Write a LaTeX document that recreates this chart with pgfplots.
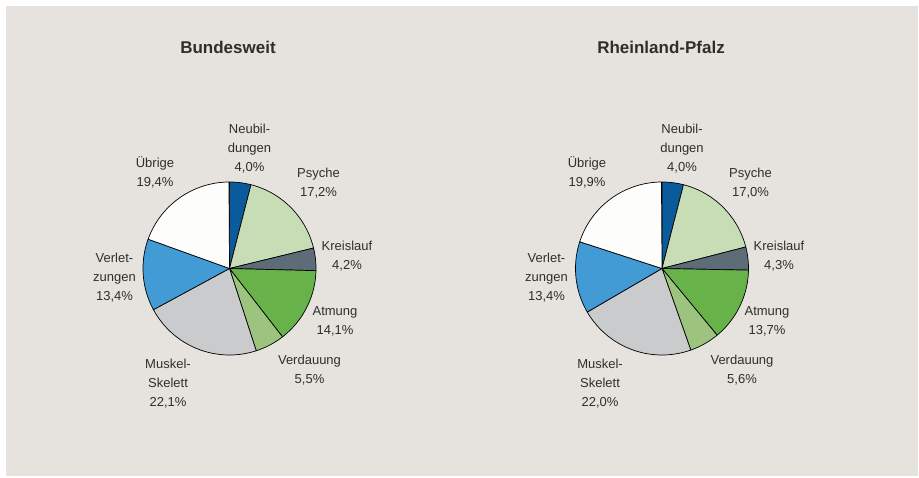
\documentclass[border=0pt]{standalone}
\usepackage{pgfplots}
\pgfplotsset{compat=1.18}
\usepgfplotslibrary{polar}
\usepackage{pgfplotstable}
\usepackage{fontspec}
\setmainfont{Liberation Sans}

\definecolor{bgc}{HTML}{E6E3DF}
\definecolor{txt}{HTML}{2E2E2E}
\definecolor{slice0}{HTML}{0B5A9C}
\definecolor{slice1}{HTML}{C6DDB6}
\definecolor{slice2}{HTML}{5E6C78}
\definecolor{slice3}{HTML}{68B24A}
\definecolor{slice4}{HTML}{9CC47E}
\definecolor{slice5}{HTML}{C9CBCD}
\definecolor{slice6}{HTML}{429BD4}
\definecolor{slice7}{HTML}{FDFDFC}

% shares in percent: Neubildungen, Psyche, Kreislauf, Atmung, Verdauung, Muskel-Skelett, Verletzungen, Uebrige
\pgfplotstableread{
pct
4.0
17.2
4.2
14.1
5.5
22.1
13.4
19.4
}\bund
\pgfplotstableread{
pct
4.0
17.0
4.3
13.7
5.6
22.0
13.4
19.9
}\rlp

\newcommand\pieslices[1]{%
  \pgfmathsetmacro\startang{90}%
  \pgfplotsforeachungrouped \i in {0,...,7}{%
    \pgfplotstablegetelem{\i}{pct}\of#1%
    \pgfmathsetmacro\endang{\startang-3.6*\pgfplotsretval}%
    \edef\doslice{\noexpand\addplot[fill=slice\i, draw=black, line width=0.7pt, line join=round, domain=\endang:\startang, samples=80] {1} -- (axis cs:0,0) -- cycle;}%
    \doslice
    \let\startang\endang
  }%
}

\newcommand\lbl[3]{\node[font=\fontsize{13}{19}\selectfont, text=txt, align=center, inner sep=0pt] at (#1pt,#2pt) {#3};}

\begin{document}
\begin{tikzpicture}
\path[use as bounding box, fill=white] (0pt,0pt) rectangle (919pt,477pt);
\fill[bgc] (6pt,1pt) rectangle (918pt,471pt);

\begin{polaraxis}[at={(229.5pt,208.5pt)}, anchor=origin, hide axis, scale only axis,
  width=173pt, height=173pt, xmin=0, xmax=360, ymin=0, ymax=1, clip=false]
\pieslices{\bund}
\end{polaraxis}

\begin{polaraxis}[at={(662pt,208.5pt)}, anchor=origin, hide axis, scale only axis,
  width=173pt, height=173pt, xmin=0, xmax=360, ymin=0, ymax=1, clip=false]
\pieslices{\rlp}
\end{polaraxis}

\node[font=\bfseries\fontsize{17}{20}\selectfont, text=txt] at (228pt,430pt) {Bundesweit};
\node[font=\bfseries\fontsize{17}{20}\selectfont, text=txt] at (661pt,430pt) {Rheinland-Pfalz};

\lbl{249.5}{328}{Neubil-\\dungen\\4,0\%}
\lbl{318.5}{294}{Psyche\\17,2\%}
\lbl{347}{220.5}{Kreislauf\\4,2\%}
\lbl{335}{155.5}{Atmung\\14,1\%}
\lbl{309.5}{106.5}{Verdauung\\5,5\%}
\lbl{168}{93}{Muskel-\\Skelett\\22,1\%}
\lbl{114.5}{199}{Verlet-\\zungen\\13,4\%}
\lbl{155}{304.5}{Übrige\\19,4\%}

\lbl{682}{328}{Neubil-\\dungen\\4,0\%}
\lbl{750.5}{294}{Psyche\\17,0\%}
\lbl{779}{220.5}{Kreislauf\\4,3\%}
\lbl{767}{155.5}{Atmung\\13,7\%}
\lbl{742}{106.5}{Verdauung\\5,6\%}
\lbl{600}{93}{Muskel-\\Skelett\\22,0\%}
\lbl{546.5}{199}{Verlet-\\zungen\\13,4\%}
\lbl{587}{304.5}{Übrige\\19,9\%}
\end{tikzpicture}
\end{document}
